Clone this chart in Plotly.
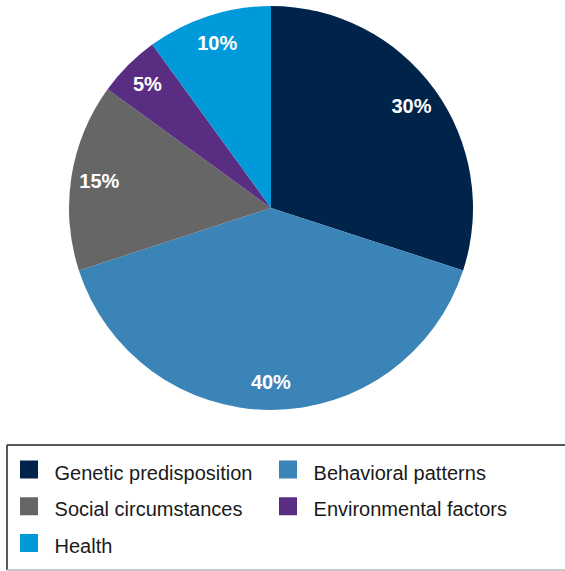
import plotly.graph_objects as go

# Share of influence on health outcomes
categories = ["Genetic predisposition", "Behavioral patterns", "Social circumstances",
              "Environmental factors", "Health"]
shares = [30, 40, 15, 5, 10]
colors = ["#00234A", "#3A84B8", "#666666", "#592D82", "#009ADA"]

FONT = "Liberation Sans, Arial, Helvetica, sans-serif"
W, H = 565, 571
pie_domain = dict(x=[67 / W, 475 / W], y=[161 / H, 565 / H])

fig = go.Figure()

# Solid pie with the colored slices
fig.add_trace(go.Pie(
    labels=categories, values=shares, sort=False, direction="clockwise",
    rotation=0, marker=dict(colors=colors, line=dict(width=0)),
    textinfo="none", hoverinfo="label+percent", showlegend=False,
    domain=pie_domain,
))

# Transparent ring on top carrying the percentage labels near the rim
fig.add_trace(go.Pie(
    labels=categories, values=shares, sort=False, direction="clockwise",
    rotation=0, hole=0.72,
    marker=dict(colors=["rgba(0,0,0,0)"] * len(shares), line=dict(width=0)),
    texttemplate="<b>%{value}%</b>", textposition="inside",
    insidetextorientation="horizontal",
    textfont=dict(family=FONT, size=20, color="white"),
    hoverinfo="skip", showlegend=False, domain=pie_domain,
))

# Legend entries with square swatches (larger legend font only sets row spacing)
for name, col in zip(categories, colors):
    fig.add_trace(go.Scatter(
        x=[None], y=[None], mode="markers",
        name=f"<span style='font-size:20px'>&nbsp;{name}</span>",
        marker=dict(symbol="square", size=16, color=col, line=dict(color=col, width=2)),
        showlegend=True,
    ))

# Frame around the legend
y_top, y_bot = (H - 445) / H, (H - 570) / H
frame = [
    (7 / W, y_top, 1.02, y_top, "#222222"),
    (7 / W, y_bot, 7 / W, y_top, "#222222"),
    (7 / W, y_bot, 1.02, y_bot, "#b5b5b5"),
]
for x0, y0, x1, y1, c in frame:
    fig.add_shape(type="line", xref="paper", yref="paper",
                  x0=x0, y0=y0, x1=x1, y1=y1,
                  line=dict(color=c, width=1.5), layer="above")

fig.update_layout(
    width=W, height=H,
    margin=dict(l=0, r=0, t=0, b=0),
    paper_bgcolor="white", plot_bgcolor="white",
    xaxis=dict(visible=False), yaxis=dict(visible=False),
    legend=dict(
        orientation="h", x=9 / W, xanchor="left", y=(H - 446) / H, yanchor="top",
        entrywidth=214, entrywidthmode="pixels",
        borderwidth=0, bgcolor="rgba(0,0,0,0)",
        font=dict(family=FONT, size=26, color="#1a1a1a"),
        itemclick=False, itemdoubleclick=False,
    ),
)

fig.write_html("out.html")
